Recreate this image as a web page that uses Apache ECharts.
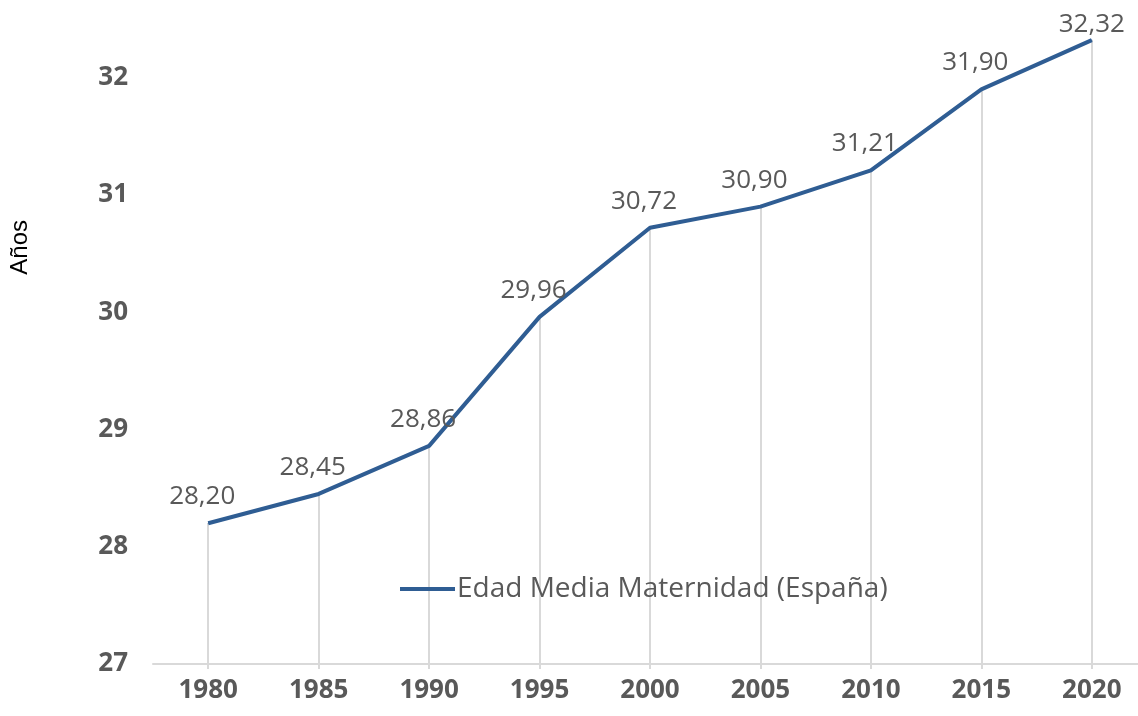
<!DOCTYPE html>
<html>
<head>
<meta charset="utf-8">
<script src="https://cdn.jsdelivr.net/npm/echarts@6/dist/echarts.min.js"></script>
<style>
  html, body { margin: 0; padding: 0; background: #fff; overflow: hidden; }
  #chart { width: 1160px; height: 716px; }
</style>
</head>
<body>
<div id="chart"></div>
<script>
var years = ['1980', '1985', '1990', '1995', '2000', '2005', '2010', '2015', '2020'];
var edadMedia = [28.20, 28.45, 28.86, 29.96, 30.72, 30.90, 31.21, 31.90, 32.32];
var seriesName = 'Edad Media Maternidad (España)';
var yMin = 27, yMax = 32.5;

var chart = echarts.init(document.getElementById('chart'));

// drop lines from each point to the axis
var dropLines = years.map(function (y, i) {
    return [{ coord: [y, yMin] }, { coord: [y, edadMedia[i]] }];
});

// last label sits closer to the line (top of the picture)
var lineData = edadMedia.map(function (v, i) {
    if (i == edadMedia.length - 1) {
        return { value: v, label: { distance: 2, offset: [0, 0] } };
    }
    return v;
});

var option = {
    animation: false,
    grid: { left: 153, top: 19, width: 994, height: 645 },
    legend: {
        data: [seriesName],
        left: 395,
        top: 570,
        icon: 'rect',
        itemWidth: 55,
        itemHeight: 4,
        textStyle: { fontFamily: 'Open Sans', fontSize: 28, color: '#595959', padding: [0, 0, 0, -3] }
    },
    graphic: [{
        type: 'text',
        left: 8,
        top: 220,
        rotation: Math.PI / 2,
        style: { text: 'Años', font: '24px "Liberation Sans"', fill: '#000' }
    }],
    xAxis: {
        type: 'category',
        data: years,
        boundaryGap: true,
        axisLine: { lineStyle: { color: '#d9d9d9', width: 2 } },
        axisTick: { show: true, alignWithLabel: true, length: 5, lineStyle: { color: '#d9d9d9', width: 2 } },
        axisLabel: { margin: 14, fontFamily: 'Open Sans', fontWeight: 'bold', fontSize: 26, color: '#595959' },
        splitLine: { show: false }
    },
    yAxis: {
        type: 'value',
        min: yMin,
        max: yMax,
        interval: 1,
        axisLine: { show: false },
        axisTick: { show: false },
        splitLine: { show: false },
        axisLabel: { margin: 25, showMaxLabel: false, fontFamily: 'Open Sans', fontWeight: 'bold', fontSize: 26, color: '#595959' }
    },
    series: [{
        name: seriesName,
        type: 'line',
        data: lineData,
        symbol: 'circle',
        symbolSize: 1,
        showSymbol: true,
        z: 3,
        lineStyle: { color: '#2f5d93', width: 4 },
        itemStyle: { color: '#2f5d93' },
        label: {
            show: true,
            position: 'top',
            distance: 13,
            offset: [-6, 0],
            fontFamily: 'Open Sans',
            fontSize: 26,
            color: '#595959',
            formatter: function (p) { return p.value.toFixed(2).replace('.', ','); }
        },
        markLine: {
            silent: true,
            symbol: 'none',
            label: { show: false },
            lineStyle: { color: '#d9d9d9', width: 2, type: 'solid' },
            data: dropLines,
            z: 1
        }
    }]
};

chart.setOption(option);
</script>
</body>
</html>
